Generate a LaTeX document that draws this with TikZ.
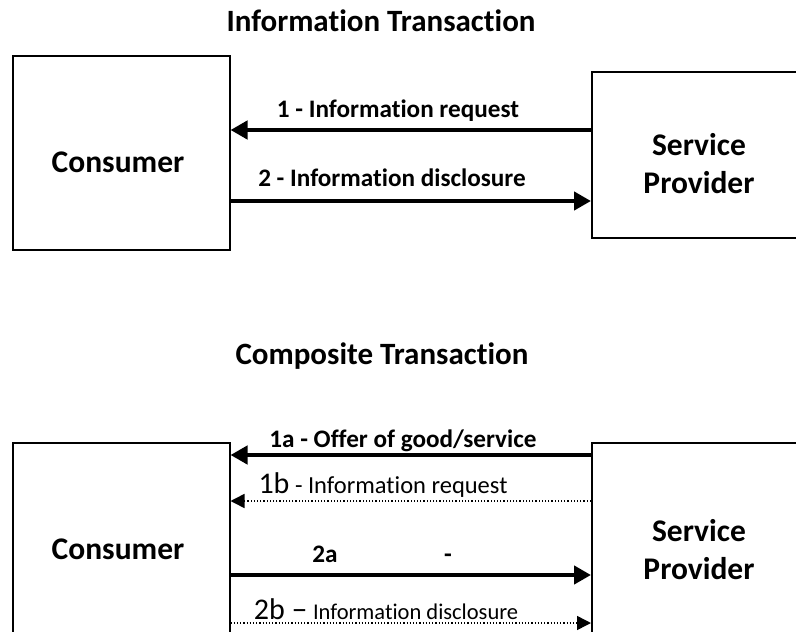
\documentclass[tikz,border=0pt]{standalone}
\usepackage{fontspec}
\setmainfont{Carlito}[Ligatures=NoCommon]
\usetikzlibrary{arrows.meta}
\begin{document}
\begin{tikzpicture}[x=1pt,y=-1pt,
  box/.style={draw, line width=1.5pt, inner sep=0pt, anchor=north west},
  boxtext/.style={font=\bfseries\fontsize{31.5}{38}\selectfont, align=center, inner sep=0pt},
  title/.style={font=\bfseries\fontsize{31}{36}\selectfont, inner sep=0pt, anchor=base},
  lab/.style={font=\bfseries\fontsize{25.2}{30}\selectfont, inner sep=0pt, anchor=base},
  labr/.style={font=\fontsize{24.5}{29}\selectfont, inner sep=0pt, anchor=base},
  solidarr/.style={line width=4.5pt, -{Triangle[length=17pt,width=18pt]}},
  dotarr/.style={line width=1.5pt, dash pattern=on 1.2pt off 2pt, -{Triangle[length=14pt,width=14pt]}}
]
\useasboundingbox (0,0) rectangle (796,632);
% ---------- top ----------
\node[title] (t1) at (381,31) {Information Transaction};
\node[box, minimum width=217pt, minimum height=194pt] (cons1) at (12,55) {};
\node[box, minimum width=216pt, minimum height=166pt] (prov1) at (591,71) {};
\node[boxtext] (cons1t) at (118,162) {Consumer};
\node[boxtext] (prov1t) at (699,164) {Service\\Provider};
\coordinate (r1) at (0,130);
\coordinate (r2) at (0,201);
\draw[solidarr] (prov1.west |- r1) -- (cons1.east |- r1);
\draw[solidarr] (cons1.east |- r2) -- (prov1.west |- r2);
\node[lab] (l1) at (398,117) {1 - Information request};
\node[lab] (l2) at (392,186) {2 - Information disclosure};
% ---------- bottom ----------
\node[title] (t2) at (382,364) {Composite Transaction};
\node[box, minimum width=217pt, minimum height=250pt] (cons2) at (12,442) {};
\node[box, minimum width=216pt, minimum height=250pt] (prov2) at (591,442) {};
\node[boxtext] (cons2t) at (118,549) {Consumer};
\node[boxtext] (prov2t) at (699,550) {Service\\Provider};
\coordinate (r3) at (0,455);
\coordinate (r4) at (0,501);
\coordinate (r5) at (0,575);
\coordinate (r6) at (0,623);
\draw[solidarr] (prov2.west |- r3) -- (cons2.east |- r3);
\draw[dotarr] (prov2.west |- r4) -- (cons2.east |- r4);
\draw[solidarr] (cons2.east |- r5) -- (prov2.west |- r5);
\draw[dotarr] (cons2.east |- r6) -- (prov2.west |- r6);
\node[lab] (l3) at (403,447) {1a - Offer of good/service};
\node[labr] (l4) at (383,493) {{\fontsize{30}{36}\selectfont 1b} - Information request};
\node[lab] (l5) at (325,562) {2a};
\node[lab] (l5d) at (448,562) {-};
\node[labr] (l6) at (386,619) {{\fontsize{30}{36}\selectfont 2b \fontsize{32}{36}\selectfont --} {\fontsize{22.5}{26}\selectfont Information disclosure}};
\end{tikzpicture}
\end{document}
